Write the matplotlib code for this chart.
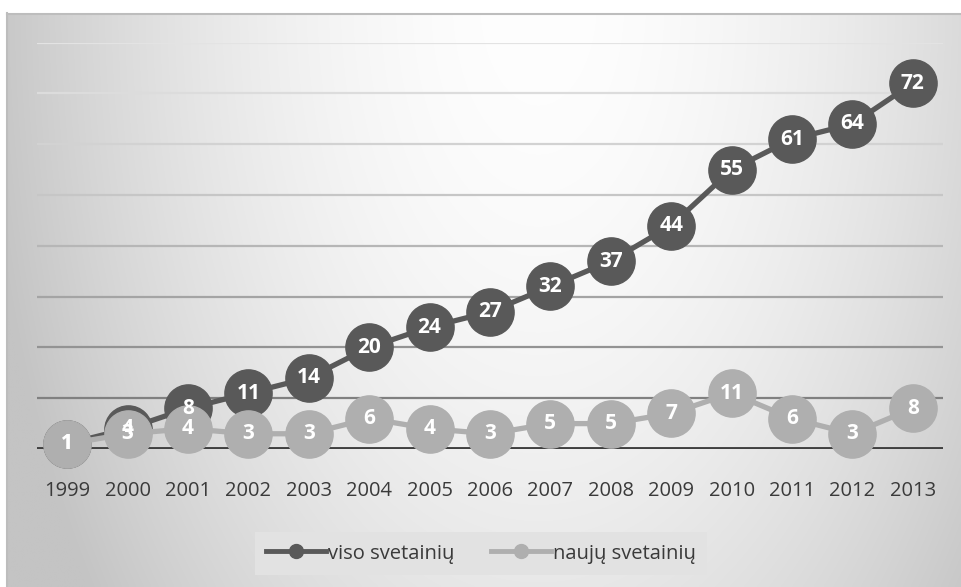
import matplotlib
matplotlib.use('Agg')
import matplotlib.pyplot as plt
from matplotlib.lines import Line2D
import numpy as np

years = ['1999', '2000', '2001', '2002', '2003', '2004', '2005', '2006',
         '2007', '2008', '2009', '2010', '2011', '2012', '2013']
viso = [1, 4, 8, 11, 14, 20, 24, 27, 32, 37, 44, 55, 61, 64, 72]
nauju = [1, 3, 4, 3, 3, 6, 4, 3, 5, 5, 7, 11, 6, 3, 8]
series_names = ['viso svetainių', 'naujų svetainių']

dark = '#595959'
light = '#afafaf'
text_col = '#3a3a3a'

plt.rcParams['font.family'] = ['Open Sans', 'DejaVu Sans']

W, H = 962, 587
fig = plt.figure(figsize=(W / 100, H / 100), dpi=100)
fig.patch.set_facecolor('white')

# background gradient of the chart area
bg = fig.add_axes([0, 0, 1, 1])
bg.set_xlim(0, W)
bg.set_ylim(H, 0)
bg.axis('off')
gx, gy = np.meshgrid(np.linspace(7, W, 400), np.linspace(13, H, 250))
d = np.sqrt(((gx - 0.56 * W) / (0.58 * W)) ** 2 + ((gy - 0) / 1000.0) ** 2)
d = np.clip(d, 0, 1) ** 1.8
val = (254 - (254 - 196) * d) / 255.0
img = np.dstack([val, val, val])
bg.imshow(img, extent=[7, W, H, 13], aspect='auto', interpolation='bilinear')
bg.plot([7, W], [13.5, 13.5], color='#bdbdbd', lw=1.5)
bg.plot([7.5, 7.5], [13, H], color='#bdbdbd', lw=1.5)

ax = fig.add_axes([37 / W, 1 - 449 / H, 906 / W, (449 - 42.7) / H])
ax.set_facecolor('none')
x = np.arange(len(years))
ax.set_xlim(-0.5, len(years) - 0.5)
ax.set_ylim(0, 80)

grid_cols = ['#808080', '#939393', '#a4a4a4', '#b6b6b6',
             '#c6c6c6', '#d2d2d2', '#dcdcdc', '#e3e3e3']
for lvl, c in zip(range(10, 90, 10), grid_cols):
    ax.axhline(lvl, color=c, lw=1.6, zorder=0)
ax.axhline(0, color='#404040', lw=2.8, zorder=1)

for s in ax.spines.values():
    s.set_visible(False)
ax.set_yticks([])
ax.set_xticks(x)
ax.set_xticklabels(years, fontsize=14.5, color=text_col)
ax.tick_params(axis='x', length=0, pad=23)

ax.plot(x, viso, color=dark, lw=3.8, marker='o', ms=34,
        mec=dark, mfc=dark, zorder=3, clip_on=False)
ax.plot(x, nauju, color=light, lw=3.8, marker='o', ms=34,
        mec=light, mfc=light, zorder=4, clip_on=False)

for xi, v in zip(x, viso):
    ax.text(xi, v, str(v), ha='center', va='center', color='white',
            fontsize=15, fontweight='bold', zorder=6, clip_on=False)
for xi, v in zip(x, nauju):
    ax.text(xi, v, str(v), ha='center', va='center', color='white',
            fontsize=15, fontweight='bold', zorder=6, clip_on=False)

handles = [Line2D([], [], color=dark, lw=3.5, marker='o', ms=10),
           Line2D([], [], color=light, lw=3.5, marker='o', ms=10)]
leg = fig.legend(handles, series_names, loc='center', bbox_to_anchor=(0.5, 1 - 553.5 / H),
                 ncol=2, fontsize=14.5, frameon=True, fancybox=False,
                 handlelength=3.0, handletextpad=0.1, columnspacing=1.8,
                 borderpad=0.55, borderaxespad=0)
leg.get_frame().set_facecolor('#e2e2e2')
leg.get_frame().set_edgecolor('none')
leg.get_frame().set_alpha(1)
for t in leg.get_texts():
    t.set_color(text_col)

fig.savefig('out.png', dpi=100)
